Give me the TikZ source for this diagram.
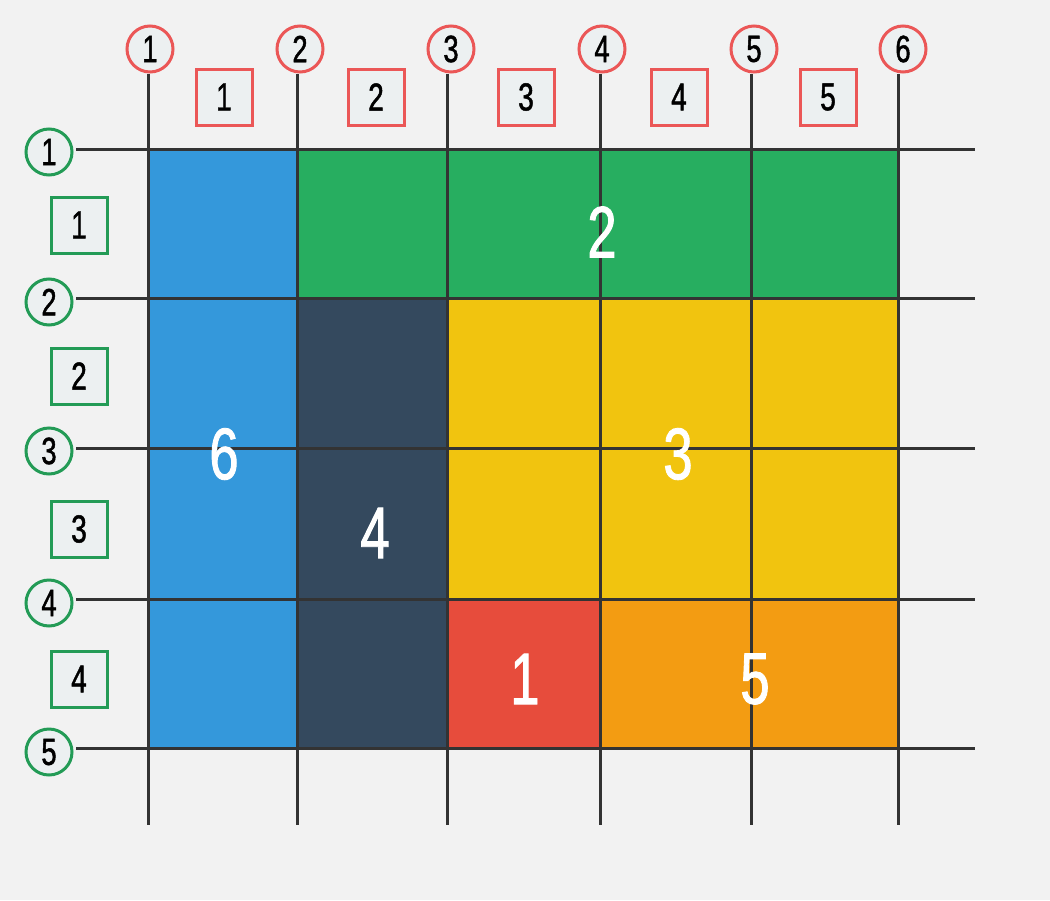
\documentclass[tikz,border=0pt]{standalone}
\usepackage{fontspec}
\setmainfont{Liberation Sans}[FakeStretch=0.72,FakeBold=1.2]
\definecolor{bg}{HTML}{F2F2F2}
\definecolor{gridc}{HTML}{333333}
\definecolor{cloud}{HTML}{ECF0F1}
\definecolor{redb}{HTML}{EB5757}
\definecolor{greenb}{HTML}{239B56}
\definecolor{cblue}{HTML}{3498DB}
\definecolor{cgreen}{HTML}{27AE60}
\definecolor{cdark}{HTML}{34495E}
\definecolor{cyellow}{HTML}{F1C40F}
\definecolor{cred}{HTML}{E74C3C}
\definecolor{corange}{HTML}{F39C12}
\tikzset{
  gridline/.style={draw=gridc, line width=3pt},
  colcirc/.style={circle, draw=redb, fill=cloud, line width=3pt, minimum size=46pt, inner sep=0pt, font=\fontsize{38}{38}\selectfont},
  rowcirc/.style={circle, draw=greenb, fill=cloud, line width=3pt, minimum size=46pt, inner sep=0pt, font=\fontsize{38}{38}\selectfont},
  colsq/.style={rectangle, draw=redb, fill=cloud, line width=3pt, minimum width=56pt, minimum height=56pt, inner sep=0pt, font=\fontsize{39}{39}\selectfont},
  rowsq/.style={rectangle, draw=greenb, fill=cloud, line width=3pt, minimum width=56pt, minimum height=56pt, inner sep=0pt, font=\fontsize{39}{39}\selectfont},
  biglabel/.style={text=white, inner sep=0pt, font=\fontsize{73}{73}\selectfont},
}
\begin{document}
\begin{tikzpicture}[x=1pt,y=-1pt]
\fill[bg] (0,0) rectangle (1050,900);
\useasboundingbox (0,0) rectangle (1050,900);
% cells
\fill[cblue] (148,149) rectangle (297,748);
\fill[cgreen] (297,149) rectangle (898,298);
\fill[cdark] (297,298) rectangle (447,748);
\fill[cyellow] (447,298) rectangle (898,599);
\fill[cred] (447,599) rectangle (600,748);
\fill[corange] (600,599) rectangle (898,748);
% grid end points
\foreach \i/\x in {1/148,2/297,3/447,4/600,5/751,6/898}{
  \coordinate (vt\i) at (\x,74);
  \coordinate (vb\i) at (\x,825);
}
\foreach \i/\y in {1/149,2/298,3/448,4/599,5/748}{
  \coordinate (hl\i) at (76,\y);
  \coordinate (hr\i) at (975,\y);
}
\foreach \i in {1,...,6}{ \draw[gridline] (vt\i) -- (vb\i); }
\foreach \i in {1,...,5}{ \draw[gridline] (hl\i) -- (hr\i); }
% column circles
\node[colcirc] (cc1) at (150,49) {1};
\node[colcirc] (cc2) at (300,49) {2};
\node[colcirc] (cc3) at (451,49) {3};
\node[colcirc] (cc4) at (602,49) {4};
\node[colcirc] (cc5) at (754,49) {5};
\node[colcirc] (cc6) at (903,49) {6};
% row circles
\node[rowcirc] (rc1) at (49,152) {1};
\node[rowcirc] (rc2) at (49,302) {2};
\node[rowcirc] (rc3) at (49,451) {3};
\node[rowcirc] (rc4) at (49,603) {4};
\node[rowcirc] (rc5) at (49,752) {5};
% column squares
\node[colsq] (cs1) at (224,97) {1};
\node[colsq] (cs2) at (376,97) {2};
\node[colsq] (cs3) at (526,97) {3};
\node[colsq] (cs4) at (679,97) {4};
\node[colsq] (cs5) at (828,97) {5};
% row squares
\node[rowsq] (rs1) at (79,225) {1};
\node[rowsq] (rs2) at (79,376) {2};
\node[rowsq] (rs3) at (79,529) {3};
\node[rowsq] (rs4) at (79,679) {4};
% big labels
\node[biglabel] (l6) at (224,454) {6};
\node[biglabel] (l2) at (602,232) {2};
\node[biglabel] (l4) at (375,533) {4};
\node[biglabel] (l3) at (678,454) {3};
\node[biglabel] (l1) at (525,679) {1};
\node[biglabel] (l5) at (755,679) {5};
\end{tikzpicture}
\end{document}
